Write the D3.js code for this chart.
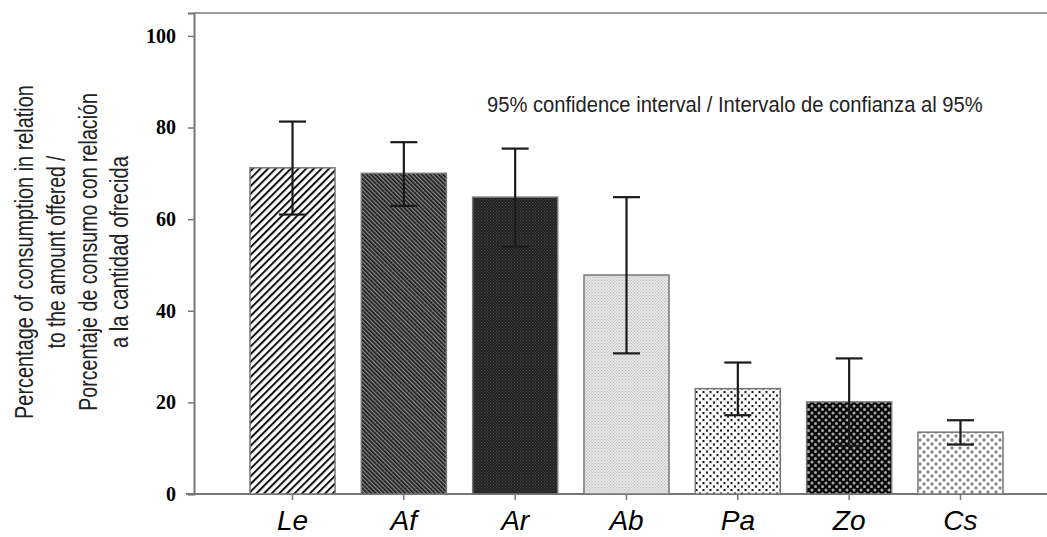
<!DOCTYPE html>
<html lang="en">
	<head>
		<meta charset="utf-8">
		<title>Consumption percentage</title>
		<script src="https://d3js.org/d3.v7.min.js" charset="utf-8"></script>
		<style type="text/css">
		body { margin: 0; background: #fff; }
		.tick-y text { font-family: "Liberation Serif", "Times New Roman", serif; font-weight: bold; font-size: 20px; fill: #000; }
		.tick-x text { font-family: "Liberation Sans", Arial, sans-serif; font-style: italic; font-size: 28px; fill: #000; }
		.title { font-family: "Liberation Sans", Arial, sans-serif; fill: #222; }
		</style>
	</head>
	<body>
		<div id="chart"></div>
		<script>
			var width = 1047;
			var height = 537;

			// data
			var categories = ["Le", "Af", "Ar", "Ab", "Pa", "Zo", "Cs"];
			var means  = [71.2, 70.0, 64.8, 47.8, 23.0, 20.1, 13.5];
			var ciLow  = [61.0, 62.9, 54.0, 30.7, 17.2, 10.5, 10.8];
			var ciHigh = [81.3, 76.8, 75.4, 64.8, 28.7, 29.6, 16.1];
			var yTicks = [0, 20, 40, 60, 80, 100];
			var yTitle = ["Percentage of consumption in relation", "to the amount offered /",
			              "Porcentaje de consumo con relación", "a la cantidad ofrecida"];
			var note = "95% confidence interval / Intervalo de confianza al 95%";

			var svg = d3.select("#chart").append("svg")
				.attr("width", width)
				.attr("height", height);

			var defs = svg.append("defs");

			// hatch / dot fills, one per bar
			function stripes(id, size, lw, bg, fg, angle) {
				var p = defs.append("pattern").attr("id", id)
					.attr("patternUnits", "userSpaceOnUse")
					.attr("width", size).attr("height", size)
					.attr("patternTransform", "rotate(" + angle + ")");
				p.append("rect").attr("width", size).attr("height", size).attr("fill", bg);
				p.append("rect").attr("width", lw).attr("height", size).attr("fill", fg);
			}
			function dots(id, size, r, bg, fg, angle) {
				var p = defs.append("pattern").attr("id", id)
					.attr("patternUnits", "userSpaceOnUse")
					.attr("width", size).attr("height", size)
					.attr("patternTransform", "rotate(" + angle + ")");
				p.append("rect").attr("width", size).attr("height", size).attr("fill", bg);
				[[0, 0], [size, 0], [0, size], [size, size], [size / 2, size / 2]].forEach(function(c) {
					p.append("circle").attr("cx", c[0]).attr("cy", c[1]).attr("r", r).attr("fill", fg);
				});
			}
			stripes("pLe", 5.4, 2.0, "#fff", "#111", 45);
			stripes("pAf", 3.0, 1.7, "#8a8a8a", "#1a1a1a", -45);
			dots("pAr", 3.0, 0.7, "#1c1c1c", "#4a4a4a", 0);
			dots("pAb", 3.0, 0.8, "#f0f0f0", "#bdbdbd", 0);
			dots("pPa", 7.0, 2.6, "#111", "#fff", 0);
			dots("pZo", 7.0, 1.5, "#0a0a0a", "#a8a8a8", 0);
			dots("pCs", 8.0, 1.7, "#fff", "#888", 0);

			var x = d3.scaleBand()
				.domain(categories)
				.range([194, 1059])
				.paddingInner(0.236)
				.paddingOuter(0.503);

			var y = d3.scaleLinear()
				.domain([0, 105])
				.range([494, 13]);

			// frame lines
			svg.append("line").attr("x1", 194).attr("x2", width).attr("y1", y(105)).attr("y2", y(105))
				.attr("stroke", "#999").attr("stroke-width", 2);
			svg.append("line").attr("x1", 186).attr("x2", width).attr("y1", y(0)).attr("y2", y(0))
				.attr("stroke", "#777").attr("stroke-width", 2);

			var gy = svg.append("g").attr("class", "tick-y")
				.attr("transform", "translate(194,0)")
				.call(d3.axisLeft(y).tickValues(yTicks).tickSize(6).tickPadding(12));
			gy.select(".domain").attr("stroke", "#777").attr("stroke-width", 2);
			gy.selectAll(".tick line").attr("stroke", "#777").attr("stroke-width", 1.5);
			gy.selectAll("text").attr("font-family", null).attr("font-size", null);

			var gx = svg.append("g").attr("class", "tick-x")
				.attr("transform", "translate(0," + y(0) + ")")
				.call(d3.axisBottom(x).tickSize(6).tickSizeOuter(0).tickPadding(10));
			gx.select(".domain").remove();
			gx.selectAll(".tick line").attr("stroke", "#777").attr("stroke-width", 1.5);
			gx.selectAll("text").attr("font-family", null).attr("font-size", null);

			// bars
			svg.selectAll("rect.bar")
				.data(categories)
				.enter().append("rect")
				.attr("class", "bar")
				.attr("x", function(d) { return x(d); })
				.attr("width", x.bandwidth())
				.attr("y", function(d, i) { return y(means[i]); })
				.attr("height", function(d, i) { return y(0) - y(means[i]); })
				.attr("fill", function(d) { return "url(#p" + d + ")"; })
				.attr("stroke", "#777")
				.attr("stroke-width", 1.5);

			// error bars
			var eb = svg.selectAll("g.err")
				.data(categories)
				.enter().append("g")
				.attr("class", "err")
				.attr("transform", function(d) { return "translate(" + (x(d) + x.bandwidth() / 2) + ",0)"; })
				.attr("stroke", "#1a1a1a")
				.attr("stroke-width", 2.2);
			eb.append("line")
				.attr("y1", function(d, i) { return y(ciLow[i]); })
				.attr("y2", function(d, i) { return y(ciHigh[i]); });
			eb.append("line").attr("x1", -13.5).attr("x2", 13.5)
				.attr("y1", function(d, i) { return y(ciHigh[i]); })
				.attr("y2", function(d, i) { return y(ciHigh[i]); });
			eb.append("line").attr("x1", -13.5).attr("x2", 13.5)
				.attr("y1", function(d, i) { return y(ciLow[i]); })
				.attr("y2", function(d, i) { return y(ciLow[i]); });

			// annotation: condensed look by squeezing horizontally to the measured width
			var noteText = svg.append("text").attr("class", "title")
				.attr("font-size", 23)
				.text(note);
			var noteLen = noteText.node().getComputedTextLength();
			noteText.attr("transform", "translate(487,112) scale(" + (496 / noteLen) + ",1)");

			// y title, four rotated lines, squeezed along the reading direction
			var titleLens = [334, 193, 318, 192];
			var titleX = [33, 65, 97, 128];
			svg.selectAll("text.ytitle")
				.data(yTitle)
				.enter().append("text")
				.attr("class", "title ytitle")
				.attr("font-size", 25)
				.attr("text-anchor", "middle")
				.text(function(d) { return d; })
				.attr("transform", function(d, i) {
					var len = this.getComputedTextLength();
					return "translate(" + titleX[i] + ",252) rotate(-90) scale(" + (titleLens[i] / len) + ",1)";
				});
		</script>
	</body>
</html>
